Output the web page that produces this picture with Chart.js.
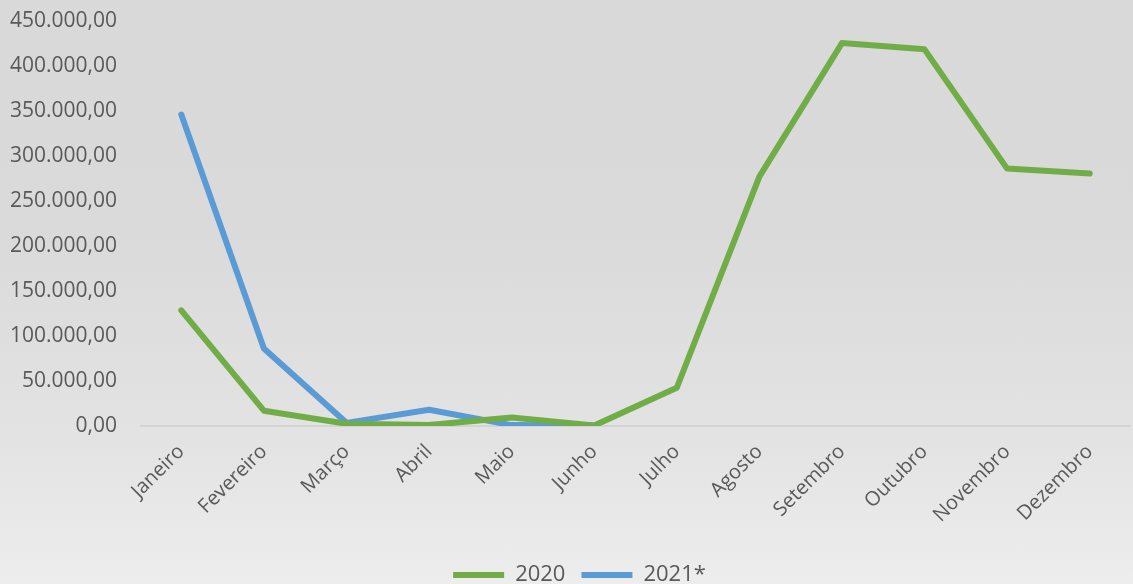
<!DOCTYPE html>
<html>
<head>
<meta charset="utf-8">
<script src="https://cdn.jsdelivr.net/npm/chart.js@4"></script>
<style>
    html, body { margin: 0; padding: 0; }
    body {
        width: 1133px;
        height: 584px;
        background: linear-gradient(to bottom, #d9d9d9 0%, #dadada 40%, #e3e3e3 75%, #ededed 100%);
    }
    #grafica { display: block; }
</style>
</head>
<body>
<canvas id="grafica" width="1133" height="584"></canvas>
<script>
const meses = ['Janeiro', 'Fevereiro', 'Março', 'Abril', 'Maio', 'Junho', 'Julho', 'Agosto', 'Setembro', 'Outubro', 'Novembro', 'Dezembro'];
const valores_2020 = [128500, 17000, 2500, 1000, 9500, 500, 42500, 277000, 425500, 418500, 286000, 280500];
const valores_2021 = [346000, 86000, 3500, 18000, 1000, 500];
const series = ['2020', '2021*'];

const formato = v => v.toLocaleString('pt-BR', { minimumFractionDigits: 2, maximumFractionDigits: 2 });

// la leyenda de excel queda un poco a la derecha del centro
const moverLeyenda = {
    id: 'moverLeyenda',
    afterLayout(chart) {
        chart.legend.left += 14;
        chart.legend.right += 14;
    }
};

const ctx = document.getElementById('grafica').getContext('2d');
new Chart(ctx, {
    type: 'line',
    data: {
        labels: meses,
        datasets: [
            {
                label: series[0],
                data: valores_2020,
                borderColor: '#70ad47',
                backgroundColor: '#70ad47',
                borderWidth: 6,
                borderCapStyle: 'round',
                borderJoinStyle: 'round',
                pointRadius: 0,
                tension: 0
            },
            {
                label: series[1],
                data: valores_2021,
                borderColor: '#5b9bd5',
                backgroundColor: '#5b9bd5',
                borderWidth: 6,
                borderCapStyle: 'round',
                borderJoinStyle: 'round',
                pointRadius: 0,
                tension: 0
            }
        ]
    },
    plugins: [moverLeyenda],
    options: {
        responsive: false,
        animation: false,
        layout: { padding: { top: 21, right: 2, bottom: -12, left: 0 } },
        plugins: {
            tooltip: { enabled: false },
            legend: {
                position: 'bottom',
                labels: {
                    usePointStyle: true,
                    pointStyle: 'line',
                    pointStyleWidth: 51,
                    boxHeight: 5,
                    padding: 16,
                    color: '#595959',
                    font: { family: '"Open Sans"', size: 22 }
                }
            }
        },
        scales: {
            x: {
                offset: true,
                grid: { display: false },
                border: { display: false },
                ticks: {
                    color: '#595959',
                    font: { family: '"Open Sans"', size: 20 },
                    maxRotation: 45,
                    minRotation: 45,
                    padding: 6
                },
                afterFit: scale => { scale.height = 122; }
            },
            y: {
                min: 0,
                max: 450000,
                border: { display: false },
                grid: {
                    drawTicks: false,
                    lineWidth: 2,
                    color: c => c.tick && c.tick.value === 0 ? '#d3d3d3' : 'rgba(0,0,0,0)'
                },
                ticks: {
                    stepSize: 50000,
                    padding: 23,
                    color: '#595959',
                    font: { family: '"Open Sans"', size: 21 },
                    callback: v => formato(v)
                },
                afterFit: scale => {
                    scale.width = 140;
                    scale.paddingTop = 0;
                    scale.paddingBottom = 0;
                }
            }
        }
    }
});
</script>
</body>
</html>
